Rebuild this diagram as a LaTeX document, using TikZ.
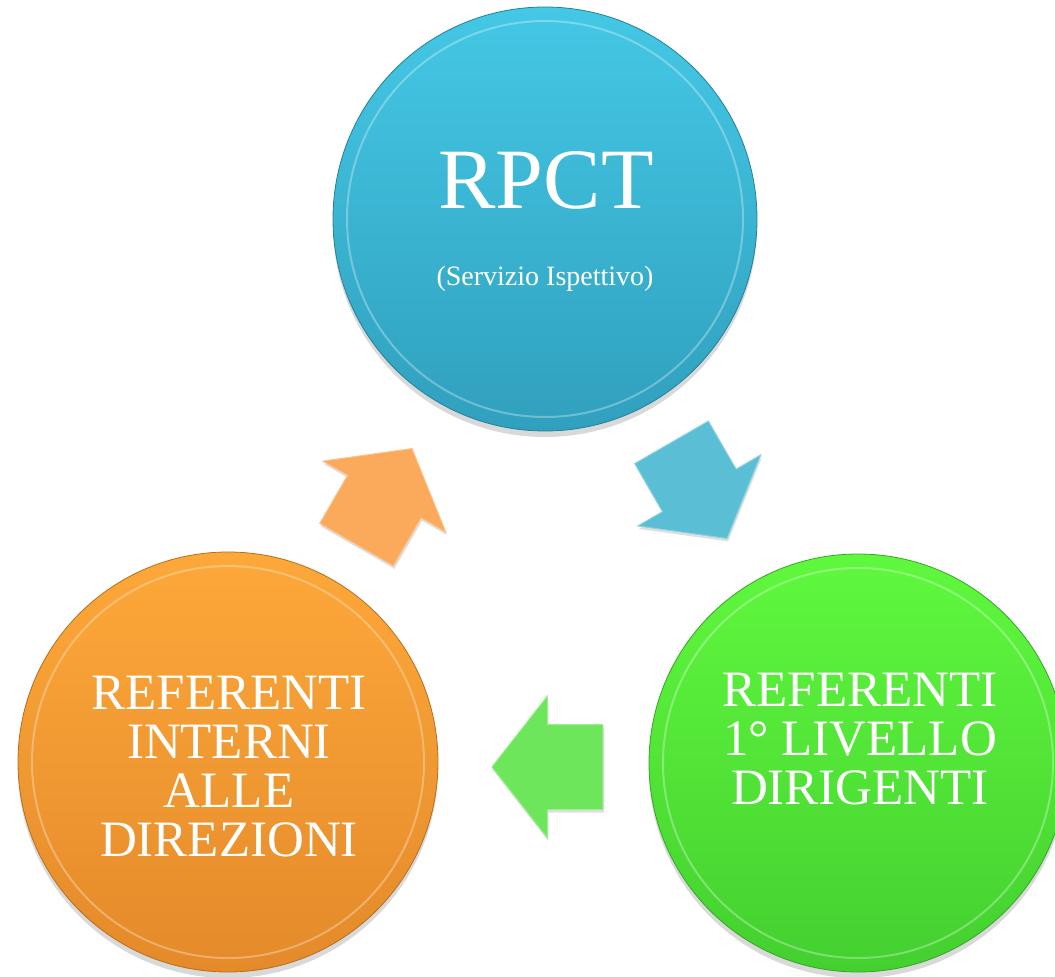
\documentclass[tikz,border=0pt]{standalone}
\usepackage{fontspec}
\setmainfont{Liberation Serif}
\usepackage{tikz}
\usetikzlibrary{shapes.arrows,shadows}

\definecolor{bluetop}{RGB}{68,200,229}
\definecolor{bluebot}{RGB}{48,160,190}
\definecolor{orangetop}{RGB}{253,168,58}
\definecolor{orangebot}{RGB}{228,138,42}
\definecolor{greentop}{RGB}{96,248,62}
\definecolor{greenbot}{RGB}{68,208,48}
\definecolor{bluearrow}{RGB}{90,190,212}
\definecolor{orangearrow}{RGB}{250,170,90}
\definecolor{greenarrow}{RGB}{110,230,92}

\tikzset{
  disc/.style={circle, inner sep=0pt, minimum size=#1, line width=0.8pt,
    drop shadow={shadow xshift=0pt, shadow yshift=-6pt, opacity=.3}},
  ring/.style={line width=2pt, white, opacity=.3},
  flow/.style={single arrow, inner xsep=0pt, inner ysep=42pt, minimum height=111pt,
    minimum width=141pt, single arrow head extend=28.5pt,
    single arrow tip angle=104, line width=1pt,
    drop shadow={shadow xshift=1pt, shadow yshift=-3pt, opacity=.25}},
  bigtext/.style={text=white, align=center, font=\fontsize{51}{49}\selectfont},
}

\begin{document}
\begin{tikzpicture}[x=1pt, y=-1pt]

  \useasboundingbox (0,0) rectangle (1055,977);

  % Define nodes

  \node[disc=424pt, top color=bluetop, bottom color=bluebot, draw=bluebot!80!black] (rpctball) at (545,219) {};
  \node[disc=420pt, top color=orangetop, bottom color=orangebot, draw=orangebot!80!black] (interniball) at (228,762) {};
  \node[disc=418pt, top color=greentop, bottom color=greenbot, draw=greenbot!80!black] (livelloball) at (858,763) {};

  \draw[ring] (rpctball.center) circle (198);
  \draw[ring] (interniball.center) circle (196);
  \draw[ring] (livelloball.center) circle (195);

  \node[text=white, anchor=base, font=\fontsize{86}{90}\selectfont] (rpct) at (546,208) {RPCT};
  \node[text=white, anchor=base, font=\fontsize{28}{30}\selectfont] (servizio) at (545,285) {(Servizio Ispettivo)};
  \node[bigtext] (interni) at (229,767) {REFERENTI\\INTERNI\\ALLE\\DIREZIONI};
  \node[bigtext] (livello) at (860,739) {REFERENTI\\1° LIVELLO\\DIRIGENTI};

  % Arrows

  \node[flow, fill=bluearrow, draw=bluearrow!70!white, rotate=-60] (toLivello) at (691,476) {};
  \node[flow, fill=greenarrow, draw=greenarrow!70!white, rotate=180] (toInterni) at (564,767) {};
  \node[flow, fill=orangearrow, draw=orangearrow!70!white, rotate=60] (toRpct) at (376,511) {};

\end{tikzpicture}
\end{document}
